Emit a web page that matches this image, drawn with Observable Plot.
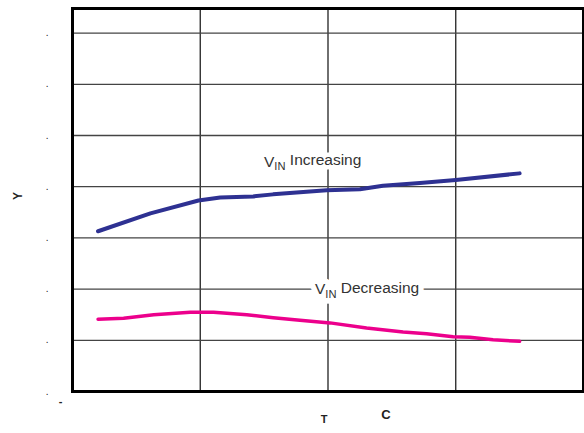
<!DOCTYPE html>
<html><head><meta charset="utf-8">
<script src="https://cdn.jsdelivr.net/npm/d3@7"></script>
<script src="https://cdn.jsdelivr.net/npm/@observablehq/plot@0.6"></script>
<style>body{margin:0;background:#fff;} svg{display:block;}</style>
</head><body><div id="chart"></div>
<script>
// Series: VIN Increasing
const tempInc = [-40, -19.5, -0.7, 7.8, 20.7, 28.5, 49.5, 62.5, 71.5, 86, 100, 125];
const valInc  = [3.13, 3.48, 3.73, 3.79, 3.81, 3.85, 3.93, 3.95, 4.02, 4.07, 4.13, 4.26];
// Series: VIN Decreasing
const tempDec = [-40, -30, -18.2, -3.9, 5.2, 18.2, 28.6, 39, 50.8, 65.1, 79.4, 88.6, 99, 105.5, 114.6, 125];
const valDec  = [1.41, 1.43, 1.50, 1.55, 1.55, 1.50, 1.44, 1.39, 1.34, 1.24, 1.16, 1.13, 1.07, 1.06, 1.01, 0.98];

const seriesNames = ["VIN Increasing", "VIN Decreasing"];
const xGridTicks = [0, 50, 100];
const yGridTicks = [1, 2, 3, 4, 5, 6, 7];
const yTickValues = [0, 1, 2, 3, 4, 5, 6, 7];
const yTickLabels = [".", ".", ".", ".", ".", ".", ".", "."];
const xTickValues = [-50];
const xTickLabels = ["-"];
const yAxisLabel = "Y";
const xAxisLabel = "C";
const xAxisGlyph = "T";

const inc = tempInc.map((t, i) => ({t, v: valInc[i]}));
const dec = tempDec.map((t, i) => ({t, v: valDec[i]}));

const labelOpts = (name, x, y) => ({x, y, text: () => name, fontSize: 15.5});

const chart = Plot.plot({
  width: 584, height: 433,
  marginLeft: 72, marginRight: 1, marginTop: 8, marginBottom: 42,
  style: {fontFamily: "'Liberation Sans', Arial, sans-serif", background: "#fff", color: "#222"},
  x: {domain: [-50, 150]},
  y: {domain: [0, 7.48]},
  marks: [
    Plot.ruleX(xGridTicks, {stroke: "#222", strokeWidth: 1.3}),
    Plot.ruleY(yGridTicks, {stroke: "#444", strokeWidth: 1.3}),
    Plot.line(inc, {x: "t", y: "v", stroke: "#2e3192", strokeWidth: 4}),
    Plot.line(dec, {x: "t", y: "v", stroke: "#ec008c", strokeWidth: 3.5}),
    // white halos behind the labels
    Plot.text([0], {...labelOpts(seriesNames[0], 44, 4.49), fill: "white", stroke: "white", strokeWidth: 9}),
    Plot.text([0], {...labelOpts(seriesNames[1], 65.3, 2.0), fill: "white", stroke: "white", strokeWidth: 11}),
    // label text
    Plot.text([0], {...labelOpts(seriesNames[0], 44, 4.49), fill: "#333"}),
    Plot.text([0], {...labelOpts(seriesNames[1], 65.3, 2.0), fill: "#333"}),
    Plot.axisY(yTickValues, {tickFormat: (d, i) => yTickLabels[i], tickSize: 0, tickPadding: 24, fontSize: 10, label: null}),
    Plot.axisX(xTickValues, {tickFormat: (d, i) => xTickLabels[i], tickSize: 0, tickPadding: 6, dx: -12, fontSize: 11, fontWeight: "bold", label: null}),
    Plot.text([yAxisLabel], {frameAnchor: "left", dx: -54, rotate: -90, text: d => d, fontSize: 12, fontWeight: "bold", fill: "#222"}),
    Plot.text([xAxisLabel], {frameAnchor: "bottom", dx: 58, dy: 27, text: d => d, fontSize: 13, fontWeight: "bold", fill: "#222"}),
    Plot.text([xAxisGlyph], {frameAnchor: "bottom", dx: -4, dy: 31, text: d => d, fontSize: 11, fontWeight: "bold", fill: "#222"}),
    Plot.frame({stroke: "black", strokeWidth: 3})
  ]
});

d3.select(chart).selectAll("text").filter(function() { return this.textContent.startsWith("VIN"); })
  .each(function() {
    const rest = this.textContent.slice(3);
    const t = d3.select(this);
    t.text(null);
    t.append("tspan").text("V");
    t.append("tspan").attr("font-size", "0.72em").attr("dy", "0.35em").text("IN");
    t.append("tspan").attr("dy", "-0.35em").text(rest);
  });

document.getElementById("chart").appendChild(chart);
</script>
</body></html>
